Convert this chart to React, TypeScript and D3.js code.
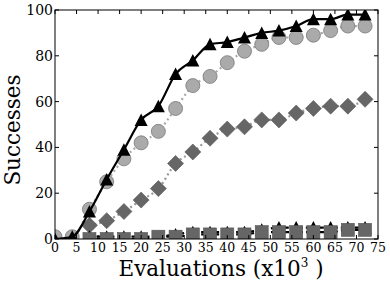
import { useEffect, useRef } from 'react';
import * as d3 from 'd3';

// Evaluations (x10^3) where each run was sampled
const evals = [0, 4, 8, 12, 16, 20, 24, 28, 32, 36, 40, 44, 48, 52, 56, 60, 64, 68, 72];
const evalsLate = [8, 12, 16, 20, 24, 28, 32, 36, 40, 44, 48, 52, 56, 60, 64, 68, 72];

// Successes per series
const triangleSolid = [0, 1, 12, 26, 39, 52, 58, 72, 78, 85, 86, 88, 90, 91, 93, 96, 96, 98, 98];
const circleDotted = [1, 1, 13, 25, 35, 42, 47, 57, 67, 71, 77, 82, 85, 88, 88, 89, 91, 93, 93];
const diamondDotted = [6, 8, 12, 17, 22, 33, 38, 44, 48, 49, 52, 52, 55, 57, 58, 58, 61];
const triangleDashed = [1, 1, 1, 1, 1, 2, 3, 3, 3, 3, 4, 5, 5, 5, 5, 5, 5];
const squareDashed = [0, 0, 0, 0, 1, 1, 2, 2, 2, 2, 3, 3, 3, 3, 3, 4, 4];

const xTicks = [0, 5, 10, 15, 20, 25, 30, 35, 40, 45, 50, 55, 60, 65, 70, 75];
const yTicks = [0, 20, 40, 60, 80, 100];

const W = 390;
const H = 283;
const FONT = 'DejaVu Serif, serif';

export default function App() {
  const svgRef = useRef<SVGSVGElement>(null);

  useEffect(() => {
    if (!svgRef.current) return;
    const svg = d3.select(svgRef.current);
    svg.selectAll('*').remove();

    const left = 55, right = 378, top = 10, bottom = 239;
    const x = d3.scaleLinear().domain([0, 75]).range([left, right]);
    const y = d3.scaleLinear().domain([0, 100]).range([bottom, top]);

    svg.append('defs')
      .append('clipPath')
      .attr('id', 'plot-clip')
      .append('rect')
      .attr('x', left)
      .attr('y', top)
      .attr('width', right - left)
      .attr('height', bottom - top);

    const plot = svg.append('g').attr('clip-path', 'url(#plot-clip)');

    const drawSeries = (
      xv: number[],
      yv: number[],
      lineColor: string,
      dash: string | null,
      marker: (g: d3.Selection<SVGGElement, unknown, null, undefined>) => void
    ) => {
      const pts = xv.map((v, i) => [v, yv[i]] as [number, number]);
      const ln = d3.line<[number, number]>()
        .x(d => x(d[0]))
        .y(d => y(d[1]))
        .curve(d3.curveMonotoneX);
      const path = plot.append('path')
        .attr('d', ln(pts))
        .attr('fill', 'none')
        .attr('stroke', lineColor)
        .attr('stroke-width', 2.2);
      if (dash) path.attr('stroke-dasharray', dash);
      pts.forEach(p => {
        const g = plot.append('g').attr('transform', `translate(${x(p[0])},${y(p[1])})`);
        marker(g);
      });
    };

    const circle = (g: any) => g.append('circle').attr('r', 7)
      .attr('fill', '#aaaaaa').attr('stroke', '#777').attr('stroke-width', 0.8);
    const diamond = (g: any) => g.append('path').attr('d', 'M0,-8L8,0L0,8L-8,0Z')
      .attr('fill', '#666666').attr('stroke', '#555').attr('stroke-width', 0.6);
    const square = (g: any) => g.append('rect').attr('x', -6.5).attr('y', -6.5)
      .attr('width', 13).attr('height', 13)
      .attr('fill', '#666666').attr('stroke', '#555').attr('stroke-width', 0.6);
    const triangle = (g: any) => g.append('path').attr('d', 'M0,-6.5L6.5,6L-6.5,6Z')
      .attr('fill', '#000');

    drawSeries(evals, circleDotted, '#aaaaaa', '2,3', circle);
    drawSeries(evalsLate, diamondDotted, '#999999', '2,3', diamond);
    drawSeries(evalsLate, triangleDashed, '#000', '4,3', triangle);
    drawSeries(evalsLate, squareDashed, '#000', '4,3', square);
    drawSeries(evals, triangleSolid, '#000', null, triangle);

    // frame
    svg.append('rect')
      .attr('x', left).attr('y', top)
      .attr('width', right - left).attr('height', bottom - top)
      .attr('fill', 'none').attr('stroke', '#000').attr('stroke-width', 1);

    // inward ticks on all sides
    const tk = 4;
    xTicks.forEach(t => {
      svg.append('line').attr('x1', x(t)).attr('x2', x(t)).attr('y1', bottom).attr('y2', bottom - tk)
        .attr('stroke', '#000');
      svg.append('line').attr('x1', x(t)).attr('x2', x(t)).attr('y1', top).attr('y2', top + tk)
        .attr('stroke', '#000');
      svg.append('text')
        .attr('x', x(t)).attr('y', 251.5)
        .attr('text-anchor', 'middle')
        .attr('font-family', FONT).attr('font-size', 12.5)
        .text(String(t));
    });
    yTicks.forEach(t => {
      svg.append('line').attr('x1', left).attr('x2', left + tk).attr('y1', y(t)).attr('y2', y(t))
        .attr('stroke', '#000');
      svg.append('line').attr('x1', right).attr('x2', right - tk).attr('y1', y(t)).attr('y2', y(t))
        .attr('stroke', '#000');
      svg.append('text')
        .attr('x', left - 2).attr('y', y(t) + 5)
        .attr('text-anchor', 'end')
        .attr('font-family', FONT).attr('font-size', 14)
        .text(String(t));
    });

    // axis labels
    const xl = svg.append('text')
      .attr('x', 221).attr('y', 276)
      .attr('text-anchor', 'middle')
      .attr('font-family', FONT).attr('font-size', 21.5);
    xl.append('tspan').text('Evaluations (x10');
    xl.append('tspan').attr('dy', -9).attr('font-size', 12).text('3');
    xl.append('tspan').attr('dy', 9).text(' )');

    svg.append('text')
      .attr('transform', `translate(20,130) rotate(-90)`)
      .attr('text-anchor', 'middle')
      .attr('font-family', FONT).attr('font-size', 21.5)
      .text('Successes');
  }, []);

  return (
    <svg
      ref={svgRef}
      width={W}
      height={H}
      style={{ position: 'absolute', left: 0, top: 0, background: '#fff' }}
    />
  );
}
